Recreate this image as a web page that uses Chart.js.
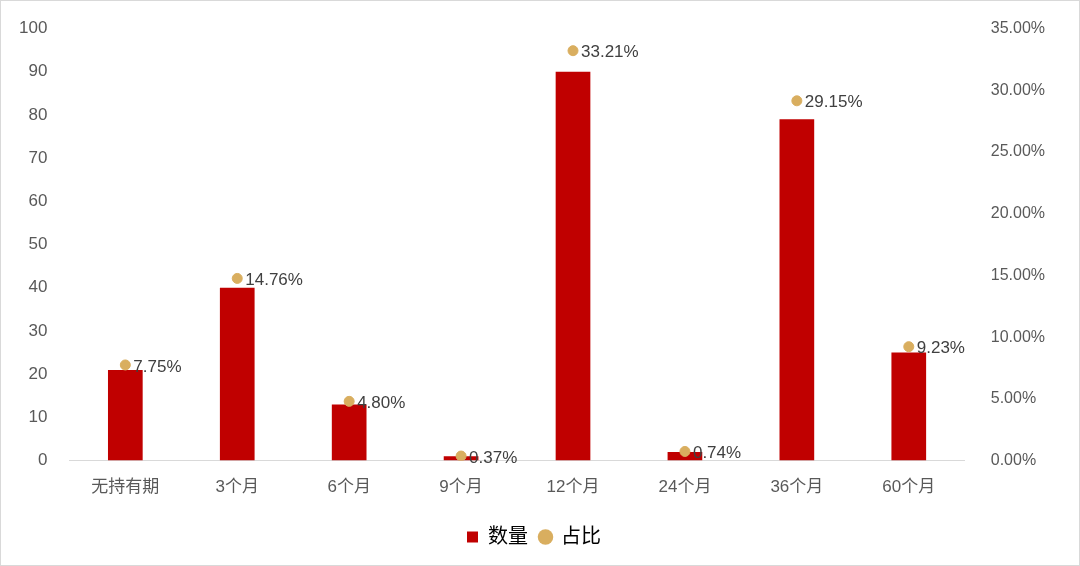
<!DOCTYPE html>
<html><head><meta charset="utf-8">
<script src="https://cdn.jsdelivr.net/npm/chart.js@4/dist/chart.umd.min.js"></script>
<style>html,body{margin:0;padding:0;background:#fff}#w{width:1078px;height:564px;border:1px solid #d9d9d9;position:relative}</style>
</head><body><div id="w"><canvas id="c"></canvas></div>
<script>
const categories=['无持有期','3个月','6个月','9个月','12个月','24个月','36个月','60个月'];
const counts=[21,40,13,1,90,2,79,25];
const shares=[7.75,14.76,4.80,0.37,33.21,0.74,29.15,9.23];
const font='"Liberation Sans","Noto Sans CJK SC",Arial,sans-serif';
const labelPlugin={id:'lbl',afterDatasetsDraw(ch){const ctx=ch.ctx;const m=ch.getDatasetMeta(1);ctx.save();ctx.font='17px '+font;ctx.fillStyle='#404040';ctx.textBaseline='middle';m.data.forEach((p,i)=>{ctx.fillText(shares[i].toFixed(2)+'%',p.x+8,p.y+2);});ctx.restore();}};
new Chart(document.getElementById('c'),{
data:{labels:categories,datasets:[
{type:'bar',label:'数量',data:counts,backgroundColor:'#C00000',yAxisID:'y',categoryPercentage:0.62,barPercentage:0.5,order:2},
{type:'scatter',label:'占比',data:shares,backgroundColor:'#D9AE5F',borderColor:'#D9AE5F',pointRadius:5,pointStyle:'circle',yAxisID:'y1',order:1}
]},
options:{responsive:true,maintainAspectRatio:false,animation:false,
layout:{padding:{left:4,right:16,top:20,bottom:8}},
plugins:{tooltip:{enabled:false},legend:{position:'bottom',labels:{font:{size:20,family:font},color:'#404040',boxWidth:11,boxHeight:11,usePointStyle:true,padding:12,
generateLabels(ch){return [{text:'数量',fillStyle:'#C00000',strokeStyle:'#C00000',pointStyle:'rect',lineWidth:0,datasetIndex:0},{text:'占比',fillStyle:'#D9AE5F',strokeStyle:'#D9AE5F',pointStyle:'circle',lineWidth:0,datasetIndex:1}];}}}},
scales:{
x:{type:'category',grid:{display:false,drawTicks:false},border:{color:'#d9d9d9'},ticks:{font:{size:17,family:font},color:'#595959',padding:17}},
y:{position:'left',min:0,max:100,ticks:{stepSize:10,font:{size:17,family:font},color:'#595959',padding:14},grid:{display:false},border:{display:false}},
y1:{position:'right',min:0,max:35,ticks:{stepSize:5,font:{size:16,family:font},color:'#595959',padding:18,callback:v=>v.toFixed(2)+'%'},grid:{display:false},border:{display:false}}
}},
plugins:[labelPlugin]});
</script></body></html>
